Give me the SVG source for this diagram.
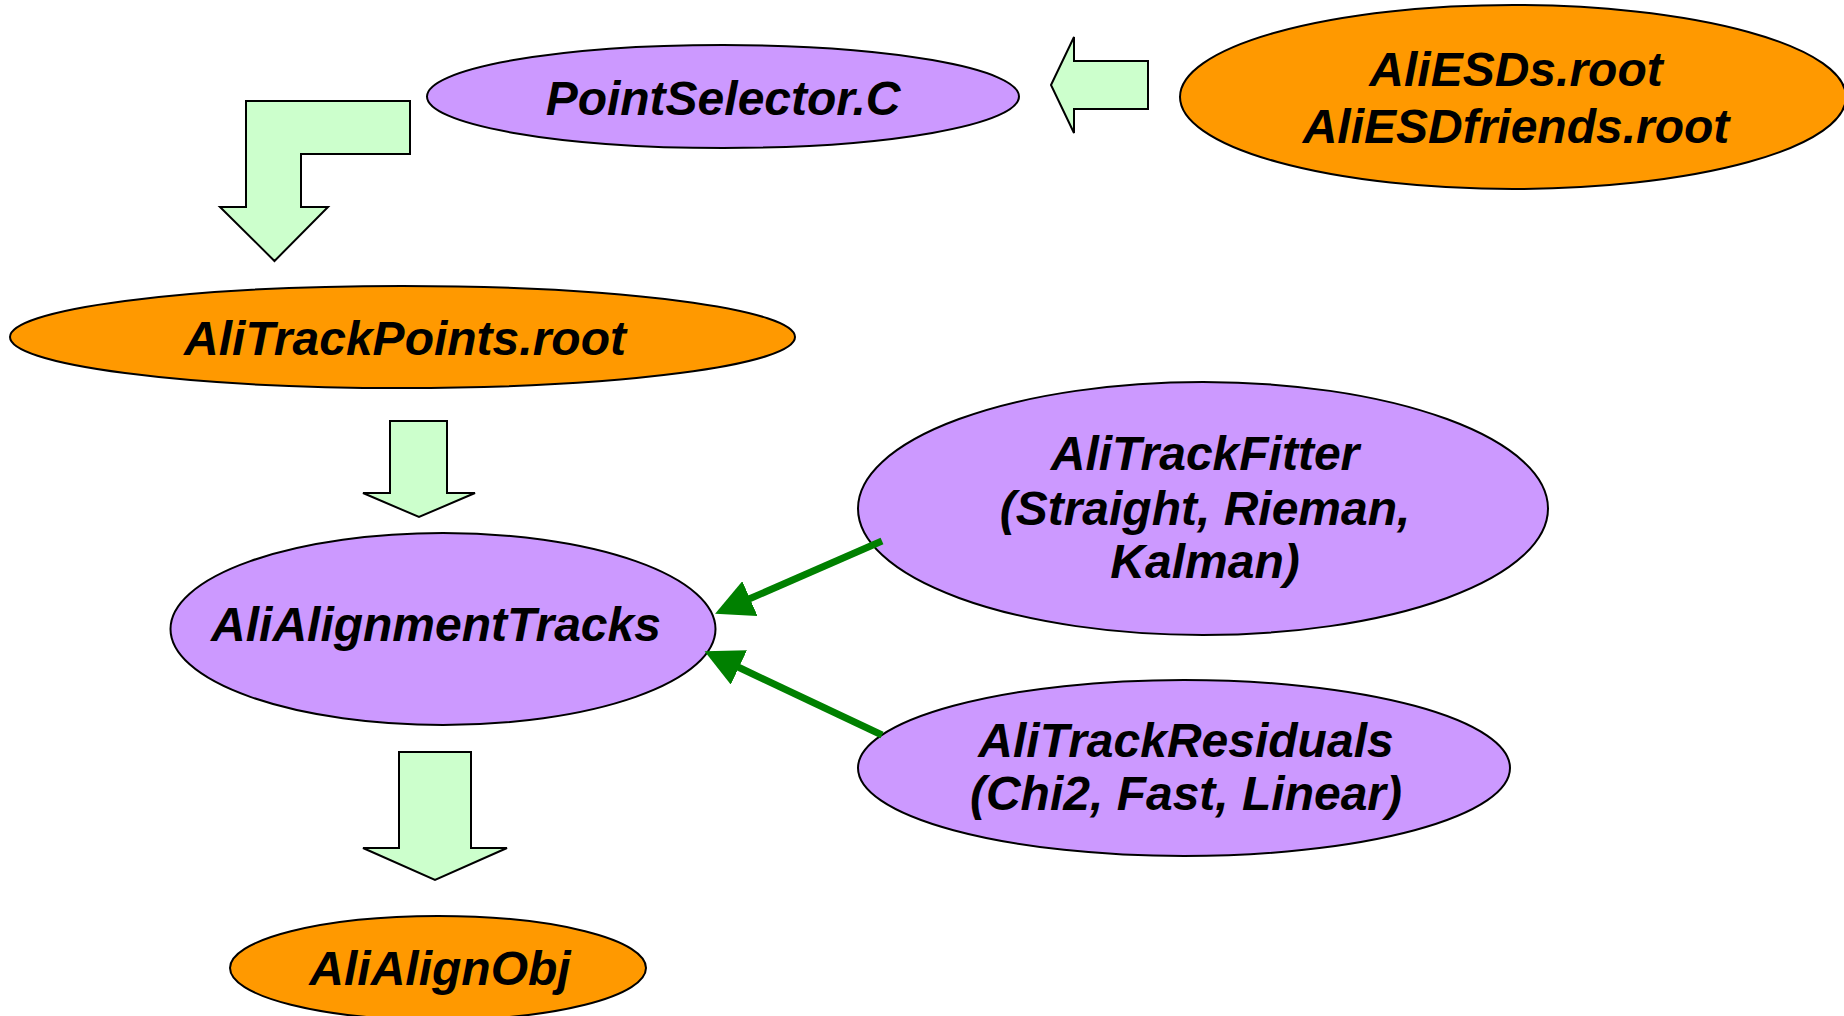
<svg xmlns="http://www.w3.org/2000/svg" width="1844" height="1016" viewBox="0 0 1844 1016">
<style>
.purple{fill:#CC99FF;stroke:#000;stroke-width:2}
.orange{fill:#FF9900;stroke:#000;stroke-width:2}
.block{fill:#CCFFCC;stroke:#000;stroke-width:2;stroke-linejoin:miter}
.lbl{font-family:"Liberation Sans",Arial,sans-serif;font-weight:bold;font-style:italic;font-size:48px;fill:#000;text-anchor:middle}
.conn{stroke:#008000;stroke-width:7;fill:none}
</style>
<defs>
<marker id="gh" viewBox="0 0 38 38" refX="1" refY="19" markerWidth="38" markerHeight="38" markerUnits="userSpaceOnUse" orient="auto">
<path d="M0,0 L38,19 L0,38 z" fill="#008000"/>
</marker>
</defs>
<rect width="1844" height="1016" fill="#fff"/>
<g id="node-pointselector">
<ellipse class="purple" cx="723" cy="96.5" rx="296" ry="51.5"/>
<text class="lbl" x="723" y="115">PointSelector.C</text>
</g>
<g id="node-aliesds">
<ellipse class="orange" cx="1513" cy="97" rx="333" ry="92"/>
<text class="lbl" x="1516" y="86">AliESDs.root</text>
<text class="lbl" x="1516" y="143">AliESDfriends.root</text>
</g>
<g id="node-alitrackpoints">
<ellipse class="orange" cx="402.5" cy="337" rx="392.5" ry="51"/>
<text class="lbl" x="405" y="355">AliTrackPoints.root</text>
</g>
<g id="node-alialignmenttracks">
<ellipse class="purple" cx="443" cy="629" rx="272.5" ry="96"/>
<text class="lbl" x="436" y="641">AliAlignmentTracks</text>
</g>
<g id="node-alitrackfitter">
<ellipse class="purple" cx="1203" cy="508.5" rx="345" ry="126.5"/>
<text class="lbl" x="1205" y="470">AliTrackFitter</text>
<text class="lbl" x="1205" y="525">(Straight, Rieman,</text>
<text class="lbl" x="1205" y="578">Kalman)</text>
</g>
<g id="node-alitrackresiduals">
<ellipse class="purple" cx="1184" cy="768" rx="326" ry="88"/>
<text class="lbl" x="1186" y="757">AliTrackResiduals</text>
<text class="lbl" x="1186" y="810">(Chi2, Fast, Linear)</text>
</g>
<g id="node-alialignobj">
<ellipse class="orange" cx="438" cy="968" rx="208" ry="52"/>
<text class="lbl" x="440" y="985">AliAlignObj</text>
</g>
<g id="connectors">
<polygon class="block" points="246,101 410,101 410,154 301,154 301,207 328,207 274.5,261 220,207 246,207"/>
<polygon class="block" points="1051,85 1074,37 1074,61 1148,61 1148,109 1074,109 1074,133"/>
<polygon class="block" points="390,421 447,421 447,493 475,493 419,517 363,493 390,493"/>
<polygon class="block" points="399,752 471,752 471,848 507,848 435,880 363,848 399,848"/>
<line class="conn" x1="882" y1="541" x2="749" y2="599" marker-end="url(#gh)"/>
<line class="conn" x1="882" y1="735" x2="738" y2="667" marker-end="url(#gh)"/>
</g>
</svg>
